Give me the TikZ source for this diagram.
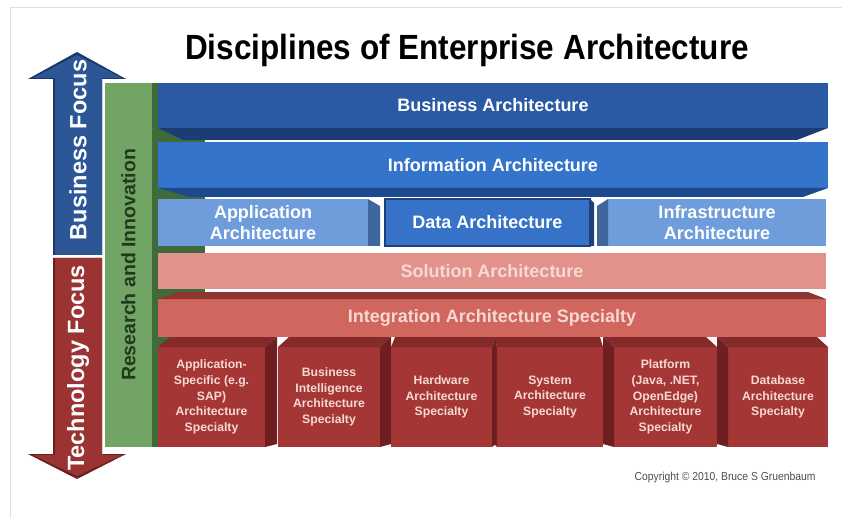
\documentclass[tikz,border=0pt]{standalone}
\usepackage{fontspec}
\setmainfont{Liberation Sans}
\usepackage{graphicx}
\usepackage{tikz}
\usetikzlibrary{calc}
\definecolor{busBlue}{HTML}{2B5AA5}
\definecolor{busBlueDark}{HTML}{1B3C74}
\definecolor{infoBlue}{HTML}{3474CB}
\definecolor{infoBlueDark}{HTML}{1D4A8E}
\definecolor{appBlue}{HTML}{6F9CDB}
\definecolor{appBlueDark}{HTML}{3F679F}
\definecolor{dataBlue}{HTML}{3572C8}
\definecolor{dataEdge}{HTML}{1E3F78}
\definecolor{solPink}{HTML}{E3918B}
\definecolor{intRed}{HTML}{D0665D}
\definecolor{intRedDark}{HTML}{8E3530}
\definecolor{boxRed}{HTML}{A53636}
\definecolor{boxRedDark}{HTML}{6E1F21}
\definecolor{boxRedTop}{HTML}{842A2B}
\definecolor{boxText}{HTML}{F6D9D4}
\definecolor{resGreen}{HTML}{72A466}
\definecolor{resGreenDark}{HTML}{3F6B3A}
\definecolor{resText}{HTML}{1F3B1C}
\definecolor{arrowBlue}{HTML}{2D5697}
\definecolor{arrowBlueDark}{HTML}{1A3766}
\definecolor{arrowRed}{HTML}{9A3332}
\definecolor{arrowRedDark}{HTML}{6A1F1F}

\begin{document}
\begin{tikzpicture}[x=1pt, y=-1pt,
    face/.style={inner sep=0pt, outer sep=0pt, align=center},
    barlabel/.style={face, text=white, font=\bfseries\fontsize{18}{21}\selectfont},
    boxlabel/.style={face, text=boxText, font=\bfseries\fontsize{12.2}{15.6}\selectfont},
    sidelabel/.style={text=white, font=\bfseries\fontsize{23.5}{23.5}\selectfont, rotate=90}]
    \useasboundingbox (0,0) rectangle (842,518);
    \draw[gray!25] (10,518) -- (10,7) -- (842,7);

    \node[font=\bfseries\fontsize{35}{35}\selectfont] (title) at (467,50) {\scalebox{0.9}[1]{Disciplines of Enterprise Architecture}};

    \fill[arrowBlueDark] (77,52) -- (28,79) -- (53,79) -- (53,255) -- (102,255) -- (102,79) -- (126,79) -- cycle;
    \fill[arrowBlue] (77,55) -- (33,78) -- (55,78) -- (55,255) -- (102,255) -- (102,78) -- (122,78) -- cycle;
    \fill[arrowRedDark] (53,258) -- (102,258) -- (102,454) -- (126,454) -- (77,479) -- (28,454) -- (53,454) -- cycle;
    \fill[arrowRed] (55,258) -- (102,258) -- (102,455) -- (122,455) -- (77,476) -- (33,455) -- (55,455) -- cycle;
    \node[sidelabel] (busfocus) at (78,150) {Business Focus};
    \node[sidelabel] (techfocus) at (78,368) {Technology Focus};

    \fill[resGreenDark] (150,83) rectangle (205,447);

    \node[face, fill=busBlue, minimum width=670pt, minimum height=45pt] (busarch) at (493,105.5) {};
    \fill[busBlueDark] (busarch.south west) -- (busarch.south east) -- ++(-31,12) -- ($(busarch.south west)+(25,12)$) -- cycle;
    \node[barlabel] at (busarch) {Business Architecture};

    \node[face, fill=infoBlue, minimum width=670pt, minimum height=46pt] (infoarch) at (493,165) {};
    \fill[infoBlueDark] (infoarch.south west) -- (infoarch.south east) -- ++(-25,9) -- ($(infoarch.south west)+(32,9)$) -- cycle;
    \node[barlabel] at (infoarch) {Information Architecture};

    \node[face, fill=appBlue, minimum width=210pt, minimum height=47pt] (apparch) at (263,222.5) {};
    \fill[appBlueDark] (apparch.north east) -- ++(12,7) -- ++(0,40) -- (apparch.south east) -- cycle;
    \node[barlabel] at (apparch) {Application\\Architecture};
    \node[face, fill=dataBlue, draw=dataEdge, line width=1.2pt, minimum width=205pt, minimum height=47pt] (dataarch) at (487.5,222.5) {};
    \fill[dataEdge] (dataarch.north east) -- ++(4,4) -- ++(0,43) -- (dataarch.south east) -- cycle;
    \node[barlabel] at (dataarch) {Data Architecture};
    \node[face, fill=appBlue, minimum width=218pt, minimum height=47pt] (infraarch) at (717,222.5) {};
    \fill[appBlueDark] (infraarch.north west) -- ++(-11,7) -- ++(0,40) -- (infraarch.south west) -- cycle;
    \node[barlabel] at (infraarch) {Infrastructure\\Architecture};

    \node[face, fill=solPink, minimum width=668pt, minimum height=36pt] (solarch) at (492,271) {};
    \node[barlabel, text=boxText] at (solarch) {Solution Architecture};

    \node[face, fill=intRed, minimum width=668pt, minimum height=38pt] (intarch) at (492,318) {};
    \fill[intRedDark] (intarch.north west) -- (intarch.north east) -- ++(-18,-7) -- ($(intarch.north west)+(20,-7)$) -- cycle;
    \node[barlabel, text=boxText] at (intarch) {Integration Architecture Specialty};

    % row of specialty boxes: name/centre/width/side shift
    \foreach \name/\cx/\w/\dx/\txt in {
        appspec/211.5/107/12/{Application-\\Specific (e.g.\\SAP)\\Architecture\\Specialty},
        bispec/329/102/11/{Business\\Intelligence\\Architecture\\Specialty},
        hwspec/441.5/101/4/{Hardware\\Architecture\\Specialty},
        sysspec/550/106/-3/{System\\Architecture\\Specialty},
        platspec/665.5/103/-11/{Platform\\(Java, .NET,\\OpenEdge)\\Architecture\\Specialty},
        dbspec/778/100/-11/{Database\\Architecture\\Specialty}} {
        \node[face, fill=boxRed, minimum width=\w pt, minimum height=100pt] (\name) at (\cx,397) {};
        \fill[boxRedTop] (\name.north west) -- (\name.north east) -- ++(\dx,-10) -- ($(\name.north west)+(\dx,-10)$) -- cycle;
        \ifdim \dx pt>0pt
            \fill[boxRedDark] (\name.north east) -- ++(\dx,-10) -- ++(0,107) -- (\name.south east) -- cycle;
        \else
            \fill[boxRedDark] (\name.north west) -- ++(\dx,-10) -- ++(0,107) -- (\name.south west) -- cycle;
        \fi
        \node[boxlabel] at (\name) {\txt};
    }

    \fill[resGreenDark] (150,83) rectangle (158,447);
    \node[face, fill=resGreen, minimum width=47pt, minimum height=364pt] (research) at (128.5,265) {};
    \node[sidelabel, text=resText, font=\bfseries\fontsize{19.5}{19.5}\selectfont] at (research) {Research and Innovation};

    \node[text=black!70, font=\fontsize{11.5}{11.5}\selectfont, anchor=east] (copyright) at (819,478) {\scalebox{0.9}[1]{Copyright \textcopyright{} 2010, Bruce S Gruenbaum}};
\end{tikzpicture}
\end{document}
